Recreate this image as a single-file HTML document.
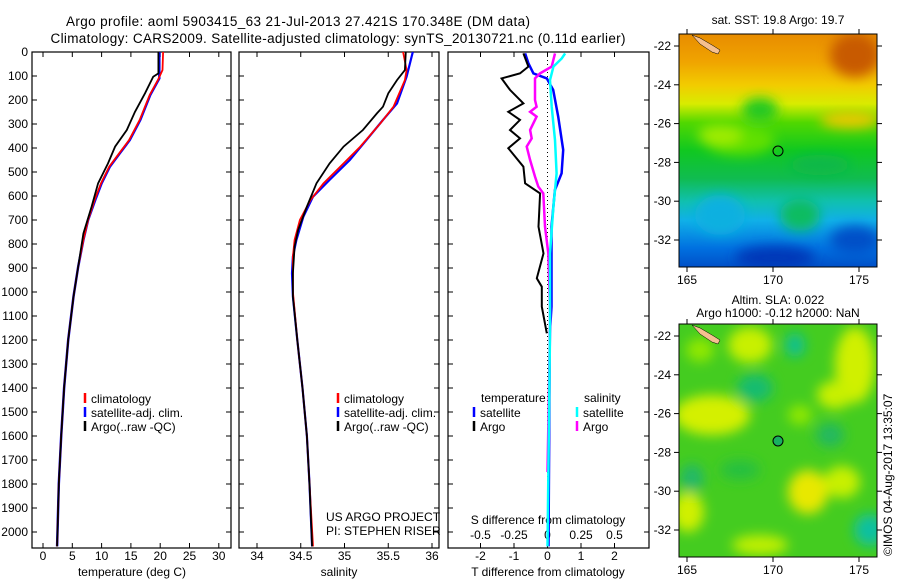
<!DOCTYPE html>
<html><head><meta charset="utf-8"><style>
body{margin:0;background:#fff;}
svg{display:block;font-family:"Liberation Sans",sans-serif;}
</style></head><body>
<svg id="fig" width="900" height="580" viewBox="0 0 900 580">
<defs>
<filter id="bl" x="-50%" y="-50%" width="200%" height="200%"><feGaussianBlur stdDeviation="6"/></filter>
<clipPath id="c1"><rect x="679" y="34" width="198" height="233"/></clipPath>
<clipPath id="c2"><rect x="679" y="324" width="198" height="233"/></clipPath>
<linearGradient id="sst" x1="0" y1="0" x2="0" y2="1">
<stop offset="0" stop-color="#e88c00"/><stop offset="0.12" stop-color="#f0a400"/><stop offset="0.22" stop-color="#f2cc00"/><stop offset="0.3" stop-color="#d8ec00"/><stop offset="0.38" stop-color="#50d800"/><stop offset="0.5" stop-color="#10c820"/><stop offset="0.62" stop-color="#10bc50"/><stop offset="0.72" stop-color="#10c0b0"/><stop offset="0.8" stop-color="#10b0e8"/><stop offset="0.92" stop-color="#0070e0"/><stop offset="1" stop-color="#0050c8"/>
</linearGradient>
</defs>
<text x="298" y="26" font-size="13.5" text-anchor="middle" textLength="464">Argo profile: aoml 5903415_63 21-Jul-2013 27.421S 170.348E (DM data)</text>
<text x="338" y="43" font-size="13.5" text-anchor="middle" textLength="575">Climatology: CARS2009. Satellite-adjusted climatology: synTS_20130721.nc (0.11d earlier)</text>

<g>
<text x="778" y="24" font-size="12" text-anchor="middle">sat. SST: 19.8 Argo: 19.7</text>
<g clip-path="url(#c1)">
<rect x="679" y="34" width="198" height="233" fill="url(#sst)"/>
<g filter="url(#bl)">
<ellipse cx="855" cy="55" rx="25" ry="22" fill="#c85a00"/>
<ellipse cx="740" cy="140" rx="35" ry="15" fill="#60e000"/>
<ellipse cx="720" cy="135" rx="22" ry="10" fill="#a0ec00"/>
<ellipse cx="850" cy="120" rx="30" ry="8" fill="#f0c800"/>
<ellipse cx="760" cy="110" rx="18" ry="12" fill="#20c820"/>
<ellipse cx="720" cy="215" rx="25" ry="20" fill="#10b0e0"/>
<ellipse cx="800" cy="215" rx="20" ry="16" fill="#10bc60"/>
<ellipse cx="775" cy="258" rx="40" ry="12" fill="#0038b8"/>
<ellipse cx="855" cy="240" rx="25" ry="14" fill="#0050c8"/>
<ellipse cx="820" cy="165" rx="30" ry="10" fill="#10b848"/>
</g>
<path d="M692,35 L700,38 L712,45 L720,50 L718,54 L712,52 L700,44 Z" fill="#f5c090" stroke="#000" stroke-width="0.5"/>
</g>
<rect x="679" y="34" width="198" height="233" fill="none" stroke="#000"/>
<circle cx="778" cy="151" r="5" fill="none" stroke="#000"/>
</g>

<g>
<text x="778" y="304" font-size="12" text-anchor="middle">Altim. SLA: 0.022</text>
<text x="778" y="317" font-size="12" text-anchor="middle">Argo h1000: -0.12 h2000: NaN</text>
<g clip-path="url(#c2)">
<rect x="679" y="324" width="198" height="233" fill="#44cc20"/>
<g filter="url(#bl)">
<ellipse cx="712" cy="415" rx="38" ry="20" fill="#d4f000"/>
<ellipse cx="750" cy="345" rx="22" ry="18" fill="#c8f000"/>
<ellipse cx="855" cy="365" rx="20" ry="38" fill="#d0f000"/>
<ellipse cx="835" cy="395" rx="18" ry="14" fill="#c8f000"/>
<ellipse cx="808" cy="492" rx="20" ry="22" fill="#e8e800"/>
<ellipse cx="842" cy="482" rx="18" ry="16" fill="#c8f000"/>
<ellipse cx="688" cy="512" rx="16" ry="20" fill="#d0f000"/>
<ellipse cx="760" cy="545" rx="28" ry="10" fill="#c0f000"/>
<ellipse cx="800" cy="415" rx="12" ry="10" fill="#90e800"/>
<ellipse cx="700" cy="350" rx="14" ry="12" fill="#90e800"/>
<ellipse cx="755" cy="388" rx="18" ry="14" fill="#18bc70"/>
<ellipse cx="795" cy="345" rx="10" ry="12" fill="#10c090"/>
<ellipse cx="870" cy="530" rx="16" ry="16" fill="#10c0a0"/>
<ellipse cx="692" cy="478" rx="12" ry="14" fill="#20b868"/>
<ellipse cx="830" cy="435" rx="14" ry="12" fill="#20b860"/>
<ellipse cx="740" cy="470" rx="20" ry="10" fill="#28c040"/>
</g>
<path d="M692,325 L700,328 L712,335 L720,340 L718,344 L712,342 L700,334 Z" fill="#f5c090" stroke="#000" stroke-width="0.5"/>
</g>
<rect x="679" y="324" width="198" height="233" fill="none" stroke="#000"/>
<circle cx="778" cy="441" r="5" fill="#18b060" stroke="#000"/>
</g>
<text transform="translate(892,556) rotate(-90)" font-size="12">©IMOS 04-Aug-2017 13:35:07</text>
</svg>
<script>
// ---- data ----
const depthTicks = [0,100,200,300,400,500,600,700,800,900,1000,1100,1200,1300,1400,1500,1600,1700,1800,1900,2000];
const tempTicks = [0,5,10,15,20,25,30];
const salTicks = [34,34.5,35,35.5,36];
const salTickLabels = ["34","34.5","35","35.5","36"];
const tdiffTicks = [-2,-1,0,1,2];
const sdiffTicks = [-0.5,-0.25,0,0.25,0.5];
const sdiffTickLabels = ["-0.5","-0.25","0","0.25","0.5"];
const latTicks = [22,24,26,28,30,32];
const lonTicks = [165,170,175];

const tClimDepth = [0,75,117,179,283,367,422,478,547,617,700,783,894,1019,1200,1400,1600,1800,2060];
const tClimVal = [20.5,20.4,19.6,18.2,16.5,14.7,13.0,11.3,9.9,8.8,7.7,6.9,6.0,5.2,4.3,3.6,3.1,2.7,2.4];
const tSatDepth = [0,110,179,283,367,422,478,547,617,700,783,894,1019,1200,1400,1600,1800,2060];
const tSatVal = [19.85,19.85,18.3,16.6,14.8,13.1,11.4,10.0,8.9,7.7,6.9,6.0,5.2,4.3,3.6,3.1,2.7,2.4];
const tArgoDepth = [0,89,103,172,249,325,394,464,547,644,756,1019,1200,1400,1600,1800,2060];
const tArgoVal = [19.7,19.7,18.8,17.4,15.7,14.3,12.3,11.1,9.4,8.3,6.9,5.2,4.3,3.6,3.1,2.7,2.4];

const sClimDepth = [0,75,117,228,297,394,464,547,617,700,783,853,1000,1200,1400,1600,1800,2060];
const sClimVal = [35.67,35.71,35.69,35.56,35.41,35.18,34.99,34.76,34.61,34.49,34.43,34.41,34.41,34.46,34.52,34.57,34.6,34.64];
const sSatDepth = [0,103,214,283,367,450,533,603,686,783,853,922,1019,1200,1400,1600,1800,2060];
const sSatVal = [35.78,35.71,35.60,35.44,35.25,35.06,34.83,34.64,34.53,34.45,34.41,34.40,34.41,34.46,34.52,34.57,34.6,34.63];
const sArgoDepth = [0,75,117,172,228,256,325,394,464,547,644,742,811,922,1019,1200,1400,1600,1800,2060];
const sArgoVal = [35.70,35.69,35.60,35.50,35.44,35.37,35.21,34.99,34.83,34.68,34.57,34.47,34.43,34.41,34.41,34.46,34.52,34.57,34.6,34.63];

const dTArgoDepth = [6,61,89,110,158,214,249,283,325,360,401,478,547,589,728,839,943,978,1061,1172];
const dTArgoVal = [-0.72,-0.57,-0.82,-1.37,-1.12,-0.72,-1.17,-0.82,-1.12,-0.82,-1.17,-0.72,-0.67,-0.22,-0.27,-0.12,-0.32,-0.17,-0.17,-0.02];
const dTSatDepth = [6,47,89,110,158,269,408,506,575,728,839,1061,1172,1600,2060];
const dTSatVal = [-0.67,-0.57,-0.42,-0.02,0.17,0.32,0.47,0.42,0.22,0.12,0.12,0.12,0.07,0.05,0.03];
const dSArgoDepth = [6,61,89,110,200,228,249,269,325,360,394,450,519,561,589,728,839,1061,1172,1750];
const dSArgoVal = [0.056,0.031,-0.056,-0.093,-0.093,-0.081,-0.13,-0.081,-0.13,-0.118,-0.155,-0.13,-0.093,-0.069,-0.031,-0.019,0.006,0.019,0.019,0.0];
const dSSatDepth = [6,27,61,89,117,228,367,506,644,839,1172,2060];
const dSSatVal = [0.131,0.106,0.044,0.031,0.019,0.031,0.056,0.068,0.044,0.019,0.019,0.0];

// ---- axes ----
const NS = "http://www.w3.org/2000/svg";
const svg = document.getElementById('fig');
const Y0 = 52, Y1 = 548;
const yD = d => Y0 + d * 0.24;
const P1 = {x0:32, x1:231}, P2 = {x0:239, x1:439}, P3 = {x0:448, x1:649};
const xT = t => 43 + t * 5.86;
const xS = s => 257 + (s - 34) * 87.5;
const xDT = t => 547.5 + t * 33.5;
const xDS = s => 547.5 + s * 134;
const xLon = l => 687 + (l - 165) * 17.2;
const yLat = (l, top) => top + 12 + (l - 22) * 19.4;

function mk(tag, attrs){ const e = document.createElementNS(NS, tag); for (const k in attrs) e.setAttribute(k, attrs[k]); svg.appendChild(e); return e; }
function txt(x, y, s, anchor, size){ const e = mk('text', {x:x, y:y, 'font-size':size||12, 'text-anchor':anchor||'middle'}); e.textContent = s; return e; }

function panel(P, name){
  const r = mk('rect', {x:P.x0, y:Y0, width:P.x1-P.x0, height:Y1-Y0, fill:'none', stroke:'#000', 'stroke-width':1.2});
  
  
  depthTicks.forEach(d => {
    mk('line', {x1:P.x0, x2:P.x0+5, y1:yD(d), y2:yD(d), stroke:'#000'});
    mk('line', {x1:P.x1-5, x2:P.x1, y1:yD(d), y2:yD(d), stroke:'#000'});
  });
}
function xticks(vals, fx, labels, ly){
  vals.forEach((v, i) => {
    mk('line', {x1:fx(v), x2:fx(v), y1:Y0, y2:Y0+5, stroke:'#000'});
    mk('line', {x1:fx(v), x2:fx(v), y1:Y1-5, y2:Y1, stroke:'#000'});
    const t = txt(fx(v), ly, labels[i]);
    
    
  });
}
function line(depths, vals, fx, color, w, name){
  const pts = depths.map((d, i) => fx(vals[i]).toFixed(1) + ',' + yD(d).toFixed(1)).join(' ');
  const p = mk('polyline', {points:pts, fill:'none', stroke:color, 'stroke-width':w, 'stroke-linejoin':'miter'});
  
  
}
function legend(x, y, color, label){
  mk('line', {x1:x, x2:x, y1:y-10, y2:y, stroke:color, 'stroke-width':2.5});
  const t = txt(x+6, y, label, 'start');
  
  
}

// panel 1
panel(P1, 'temperature-panel');
depthTicks.forEach(d => {
  const t = txt(28, yD(d)+4, String(d), 'end');
  
  
});
xticks(tempTicks, xT, tempTicks.map(String), 560);
let lt = txt(132, 576, 'temperature (deg C)');


line(tSatDepth, tSatVal, xT, '#0000ff', 2.5, 'temperature-satellite-line');
line(tClimDepth, tClimVal, xT, '#ff0000', 1.8, 'temperature-climatology-line');
line(tArgoDepth, tArgoVal, xT, '#000000', 1.8, 'temperature-argo-line');
legend(85, 403, '#ff0000', 'climatology');
legend(85, 417, '#0000ff', 'satellite-adj. clim.');
legend(85, 431, '#000000', 'Argo(..raw -QC)');

// panel 2
panel(P2, 'salinity-panel');
xticks(salTicks, xS, salTickLabels, 560);
lt = txt(339, 576, 'salinity');


line(sSatDepth, sSatVal, xS, '#0000ff', 2.2, 'salinity-satellite-line');
line(sClimDepth, sClimVal, xS, '#ff0000', 1.8, 'salinity-climatology-line');
line(sArgoDepth, sArgoVal, xS, '#000000', 1.8, 'salinity-argo-line');
legend(338, 403, '#ff0000', 'climatology');
legend(338, 417, '#0000ff', 'satellite-adj. clim.');
legend(338, 431, '#000000', 'Argo(..raw -QC)');
lt = txt(326, 521, 'US ARGO PROJECT', 'start');


lt = txt(326, 535, 'PI: STEPHEN RISER', 'start');



// panel 3
panel(P3, 'difference-panel');
xticks(tdiffTicks, xDT, tdiffTicks.map(String), 560);
sdiffTicks.forEach((v, i) => {
  const t = txt(xDS(v), 539, sdiffTickLabels[i]);
  
  
});
lt = txt(548, 524, 'S difference from climatology');


lt = txt(548, 576, 'T difference from climatology');


const zl = mk('line', {x1:xDT(0), x2:xDT(0), y1:Y0, y2:Y1, stroke:'#000', 'stroke-dasharray':'1,3'});


line(dTSatDepth, dTSatVal, xDT, '#0000ff', 2.5, 't-diff-satellite-line');
line(dTArgoDepth, dTArgoVal, xDT, '#000000', 2, 't-diff-argo-line');
line(dSArgoDepth, dSArgoVal, xDS, '#ff00ff', 2.5, 's-diff-argo-line');
line(dSSatDepth, dSSatVal, xDS, '#00ffff', 2.5, 's-diff-satellite-line');
lt = txt(481, 402, 'temperature', 'start');


lt = txt(584, 402, 'salinity', 'start');


legend(474, 417, '#0000ff', 'satellite');
legend(474, 431, '#000000', 'Argo');
legend(577, 417, '#00ffff', 'satellite');
legend(577, 431, '#ff00ff', 'Argo');

// map axes
[34, 324].forEach(top => {
  latTicks.forEach(l => {
    const y = yLat(l, top);
    mk('line', {x1:674, x2:679, y1:y, y2:y, stroke:'#000'});
    mk('line', {x1:877, x2:882, y1:y, y2:y, stroke:'#000'});
    const t = txt(671, y+4, '-' + l, 'end');
    
    
  });
  lonTicks.forEach(l => {
    mk('line', {x1:xLon(l), x2:xLon(l), y1:top-5, y2:top, stroke:'#000'});
    mk('line', {x1:xLon(l), x2:xLon(l), y1:top+233, y2:top+238, stroke:'#000'});
    const t = txt(xLon(l), top+250, String(l));
    
    
  });
});
</script>
</body></html>
